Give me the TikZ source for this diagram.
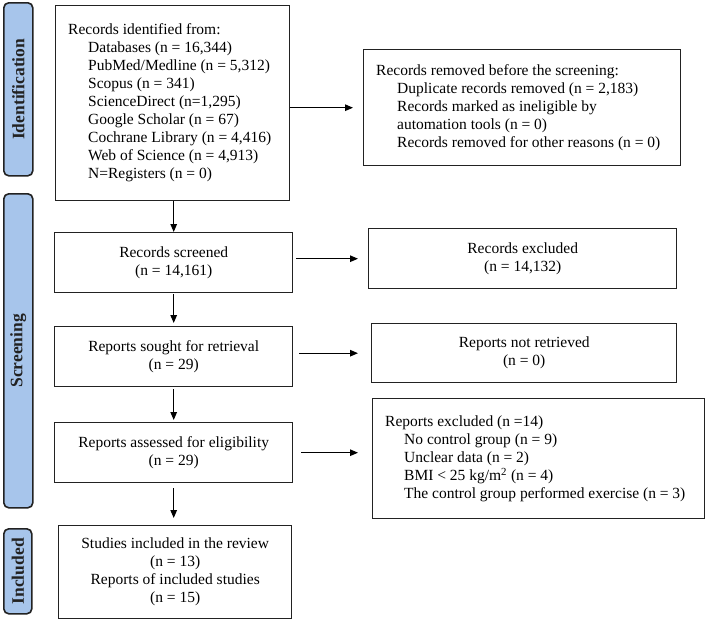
\documentclass[tikz,border=0pt]{standalone}
\usepackage{fontspec}
\setmainfont{Liberation Serif}
\usetikzlibrary{arrows.meta,calc}
\definecolor{phaseblue}{HTML}{A7C5EB}
\definecolor{edge}{HTML}{222222}
\begin{document}
\begin{tikzpicture}[x=1pt,y=-1pt,
  box/.style={draw=edge, line width=1.4pt, fill=white, inner sep=0pt, anchor=north west},
  phase/.style={draw=edge, line width=1.6pt, fill=phaseblue, rounded corners=5pt, inner sep=0pt, anchor=north west},
  phasetxt/.style={rotate=90, font=\fontsize{17.5}{19}\selectfont\bfseries, text=edge},
  txt/.style={font=\fontsize{15.5}{18}\selectfont, text=black, inner sep=0pt},
  arr/.style={-{Triangle[length=8pt,width=6.5pt]}, line width=1.2pt, draw=black}]
\useasboundingbox (0,0) rectangle (708,621);

% phase labels
\node[phase, minimum width=29, minimum height=173] (p1) at (3,2) {};
\node[phasetxt] (p1t) at (p1.center) {Identification};
\node[phase, minimum width=29, minimum height=314] (p2) at (3,193) {};
\node[phasetxt] (p2t) at (p2.center) {Screening};
\node[phase, minimum width=28, minimum height=85] (p3) at (3,528) {};
\node[phasetxt] (p3t) at (p3.center) {Included};

% boxes
\node[box, minimum width=234, minimum height=195] (id) at (55,5) {};
\node[txt, anchor=west, align=left] (idt) at ($(id.west)+(13,0)$) {Records identified from:\\
\hspace*{20pt}Databases (n = 16,344)\\
\hspace*{20pt}PubMed/Medline (n = 5,312)\\
\hspace*{20pt}Scopus (n = 341)\\
\hspace*{20pt}ScienceDirect (n=1,295)\\
\hspace*{20pt}Google Scholar (n = 67)\\
\hspace*{20pt}Cochrane Library (n = 4,416)\\
\hspace*{20pt}Web of Science (n = 4,913)\\
\hspace*{20pt}N=Registers (n = 0)};

\node[box, minimum width=317, minimum height=116] (rem) at (363,49) {};
\node[txt, anchor=west, align=left] (remt) at ($(rem.west)+(13,0)$) {Records removed before the screening:\\
\hspace*{21pt}Duplicate records removed (n = 2,183)\\
\hspace*{21pt}Records marked as ineligible by\\
\hspace*{21pt}automation tools (n = 0)\\
\hspace*{21pt}Records removed for other reasons (n = 0)};

\node[box, minimum width=238, minimum height=60] (scr) at (54,232) {};
\node[txt, align=center] (scrt) at (scr.center) {Records screened\\(n = 14,161)};

\node[box, minimum width=308, minimum height=60] (exc) at (368,228) {};
\node[txt, align=center] (exct) at (exc.center) {Records excluded\\(n = 14,132)};

\node[box, minimum width=238, minimum height=60] (sou) at (54,326) {};
\node[txt, align=center] (sout) at (sou.center) {Reports sought for retrieval\\(n = 29)};

\node[box, minimum width=305, minimum height=59] (nr) at (371,323) {};
\node[txt, align=center] (nrt) at (nr.center) {Reports not retrieved\\(n = 0)};

\node[box, minimum width=238, minimum height=60] (ass) at (54,422) {};
\node[txt, align=center] (asst) at (ass.center) {Reports assessed for eligibility\\(n = 29)};

\node[box, minimum width=332, minimum height=120] (rex) at (372,398) {};
\node[txt, anchor=west, align=left] (rext) at ($(rex.west)+(13,0)$) {Reports excluded (n =14)\\
\hspace*{19pt}No control group (n = 9)\\
\hspace*{19pt}Unclear data (n = 2)\\
\hspace*{19pt}BMI < 25 kg/m\textsuperscript{2} (n = 4)\\
\hspace*{19pt}The control group performed exercise (n = 3)};

\node[box, minimum width=233, minimum height=93] (inc) at (58,525) {};
\node[txt, align=center] (inct) at (inc.center) {Studies included in the review\\(n = 13)\\Reports of included studies\\(n = 15)};

% vertical arrows
\draw[arr] (id.south -| scr.north) -- (scr.north);
\draw[arr, shorten <=1pt, shorten >=3pt] (scr.south) -- (scr.south |- sou.north);
\draw[arr, shorten <=2pt, shorten >=2pt] (sou.south) -- (sou.south |- ass.north);
\draw[arr, shorten <=5pt, shorten >=7pt] (ass.south) -- (ass.south |- inc.north);

% horizontal arrows
\draw[arr, shorten >=10pt] (id.east |- rem.west) -- (rem.west);
\draw[arr, shorten <=3pt, shorten >=10pt] (scr.east |- exc.west) -- (exc.west);
\draw[arr, shorten <=6pt, shorten >=13pt] (sou.east |- nr.west) -- (nr.west);
\draw[arr, shorten <=8pt, shorten >=14pt] (ass.east) -- (ass.east -| rex.west);
\end{tikzpicture}
\end{document}
